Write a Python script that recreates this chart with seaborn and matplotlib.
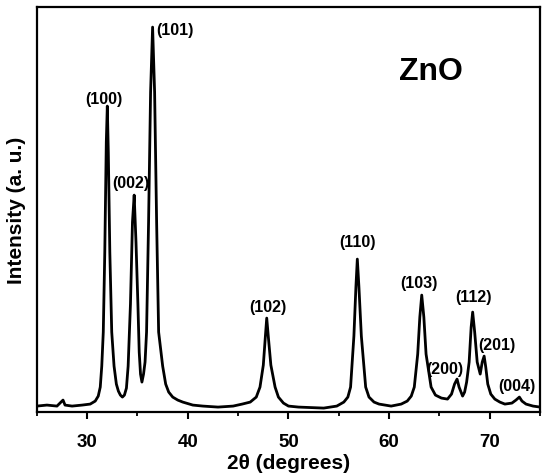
import matplotlib
matplotlib.use("Agg")
import matplotlib.pyplot as plt
import seaborn as sns
import pandas as pd
from matplotlib.ticker import MultipleLocator

# ---- data ----
two_theta = [
    25.0, 26.0, 27.0, 27.6, 27.8, 28.5, 29.5, 30.3, 30.8, 31.1, 31.3,
    31.45, 31.6, 31.75, 31.9, 32.0, 32.1, 32.25, 32.44, 32.67, 32.9, 33.1,
    33.3, 33.5, 33.7, 33.9, 34.07, 34.3, 34.5, 34.67, 34.85, 35.04, 35.17,
    35.3, 35.44, 35.6, 35.75, 35.9, 36.1, 36.3, 36.5, 36.7, 36.9, 37.1,
    37.5, 37.8, 38.1, 38.5, 39.0, 39.5, 40.5, 41.5, 43.0, 44.5, 45.4,
    46.2, 46.8, 47.17, 47.5, 47.7, 47.84, 48.0, 48.25, 48.67, 49.0, 49.5,
    50.0, 51.0, 53.5, 54.8, 55.5, 55.9, 56.17, 56.5, 56.7, 56.84, 57.0,
    57.24, 57.67, 58.0, 58.5, 59.0, 60.2, 61.2, 61.8, 62.2, 62.5, 62.84,
    63.05, 63.24, 63.45, 63.67, 64.17, 64.6, 65.2, 65.8, 66.2, 66.5, 66.75,
    66.95, 67.3, 67.5, 67.7, 67.95, 68.15, 68.3, 68.5, 68.75, 69.05, 69.25,
    69.44, 69.6, 69.8, 70.1, 70.5, 71.0, 71.5, 72.2, 72.6, 72.94, 73.2,
    73.6, 74.3, 75.0,
]
intensity = [
    6, 7, 6, 12, 7, 6, 7, 8, 11, 16, 25,
    46, 80, 160, 270, 306, 260, 160, 80, 46, 28, 21,
    17, 15, 17, 24, 46, 108, 190, 217, 170, 108, 60,
    38, 30, 38, 50, 80, 190, 320, 385, 320, 190, 80,
    46, 28, 20, 15, 12, 10, 7, 6, 5, 6, 8,
    10, 15, 25, 47, 75, 94, 75, 47, 25, 15, 9,
    6, 5, 4, 6, 10, 15, 25, 76, 125, 153, 125,
    76, 25, 15, 10, 8, 6, 8, 11, 16, 25, 58,
    95, 117, 95, 58, 25, 17, 14, 13, 18, 28, 33,
    25, 16, 20, 30, 50, 85, 100, 80, 50, 38, 50,
    56, 45, 28, 18, 13, 10, 8, 9, 12, 15, 11,
    8, 6, 5,
]

peak_labels = ["(100)", "(002)", "(101)", "(102)", "(110)", "(103)",
               "(200)", "(112)", "(201)", "(004)"]
label_x = [31.7, 34.34, 38.67, 48.0, 56.9, 63.0, 65.57, 68.34, 70.74, 72.74]
label_y = [314, 230, 383, 106, 171, 130, 44, 116, 68, 27]

x_ticks = [30, 40, 50, 60, 70]
sample_name = "ZnO"

# ---- plotting ----
sns.set_theme(style="ticks")
plt.rcParams["font.family"] = ["Liberation Sans", "DejaVu Sans"]
plt.rcParams["font.weight"] = "bold"
plt.rcParams["text.color"] = "black"
plt.rcParams["axes.labelcolor"] = "black"
plt.rcParams["xtick.color"] = "black"
plt.rcParams["ytick.color"] = "black"

df = pd.DataFrame({"two_theta": two_theta, "intensity": intensity})

fig = plt.figure(figsize=(5.5, 4.77), dpi=100)
ax = fig.add_axes([0.067, 0.134, 0.915, 0.849])

sns.lineplot(data=df, x="two_theta", y="intensity", color="black",
             linewidth=2.0, ax=ax)

ax.set_xlim(25, 75)
ax.set_ylim(0, 405)
ax.set_xticks(x_ticks)
ax.xaxis.set_minor_locator(MultipleLocator(5))
ax.set_yticks([])
ax.tick_params(axis="x", which="major", direction="out", length=5,
               width=1.5, pad=10, labelsize=13.5, colors="black")
ax.tick_params(axis="x", which="minor", direction="out", length=3,
               width=1.3, colors="black")
for lbl in ax.get_xticklabels():
    lbl.set_fontweight("bold")
for s in ax.spines.values():
    s.set_linewidth(1.6)
    s.set_color("black")
    s.set_visible(True)

ax.set_xlabel("2θ (degrees)", fontsize=15, fontweight="bold", labelpad=2,
              color="black")
ax.set_ylabel("Intensity (a. u.)", fontsize=15, fontweight="bold",
              labelpad=8, color="black")

for name, lx, ly in zip(peak_labels, label_x, label_y):
    ax.text(lx, ly, name, ha="center", va="center", fontsize=11.5,
            fontweight="bold", color="black")

ax.text(64.17, 341, sample_name, ha="center", va="center", fontsize=23,
        fontweight="bold", color="black")

fig.savefig("out.png", dpi=100)
